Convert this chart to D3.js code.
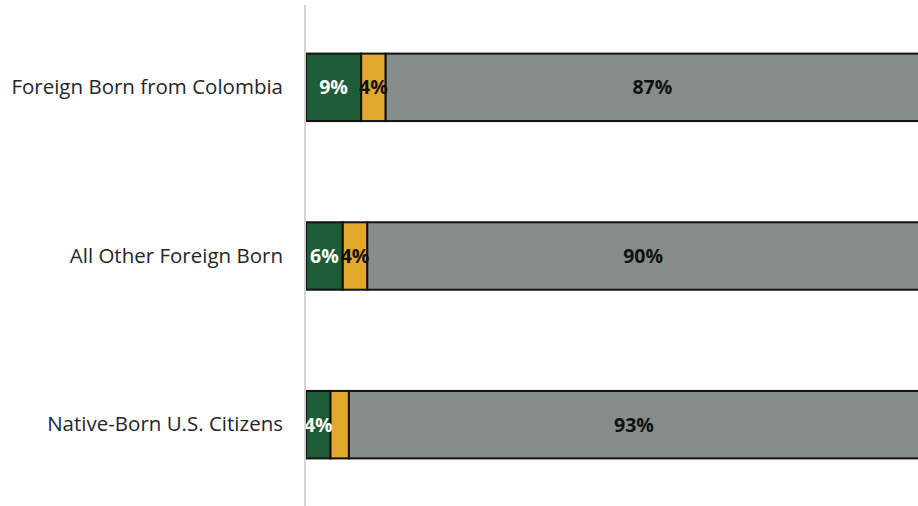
<!DOCTYPE html>
<html><head><meta charset="utf-8">
<script src="https://cdn.jsdelivr.net/npm/d3@7/dist/d3.min.js"></script>
<style>html,body{margin:0;padding:0;background:#fff;overflow:hidden}</style>
</head><body>
<svg id="c" width="918" height="506"></svg>
<script>
const categories = ["Foreign Born from Colombia", "All Other Foreign Born", "Native-Born U.S. Citizens"];
const series = ["s1", "s2", "s3"];
const seriesA = [9, 6, 4];
const seriesB = [4, 4, 3];
const seriesC = [87, 90, 93];
const labelsA = ["9%", "6%", "4%"];
const labelsB = ["4%", "4%", ""];
const labelsC = ["87%", "90%", "93%"];
const colors = ["#1e5c37", "#e2a82d", "#858d8a"];
const labelColors = ["#ffffff", "#111111", "#111111"];

const svg = d3.select("#c");
const x = d3.scaleLinear().domain([0, 100]).range([306, 919]);
const y = d3.scaleBand().domain(categories).range([3, 509]).paddingInner(0.6).paddingOuter(0.3);

const rows = categories.map((c, i) => {
  const vals = [seriesA[i], seriesB[i], seriesC[i]];
  const labs = [labelsA[i], labelsB[i], labelsC[i]];
  let acc = 0;
  return vals.map((v, k) => { const s = {cat: c, k, x0: acc, x1: acc + v, label: labs[k]}; acc += v; return s; });
}).flat();

svg.selectAll("rect.seg").data(rows).enter().append("rect")
  .attr("class", "seg")
  .attr("x", d => x(d.x0))
  .attr("width", d => x(d.x1) - x(d.x0))
  .attr("y", d => y(d.cat))
  .attr("height", y.bandwidth())
  .attr("fill", d => colors[d.k])
  .attr("stroke", "#111")
  .attr("stroke-width", 2);

svg.selectAll("text.lab").data(rows.filter(d => d.label)).enter().append("text")
  .attr("x", d => (x(d.x0) + x(d.x1)) / 2)
  .attr("y", d => y(d.cat) + y.bandwidth() / 2)
  .attr("dy", "0.36em")
  .attr("text-anchor", "middle")
  .attr("font-family", "Open Sans, sans-serif")
  .attr("font-weight", "bold")
  .attr("font-size", 19.5)
  .attr("fill", d => labelColors[d.k])
  .text(d => d.label);

// axis
const ax = svg.append("g").attr("transform", "translate(305,0)")
  .call(d3.axisLeft(y).tickSize(0).tickPadding(22));
ax.select(".domain").attr("stroke", "#d4d4d4").attr("stroke-width", 2).attr("d", "M0,5V506");
ax.selectAll("text").attr("font-family", "Open Sans, sans-serif").attr("font-size", 20.5).attr("fill", "#262626");
</script>
</body></html>
